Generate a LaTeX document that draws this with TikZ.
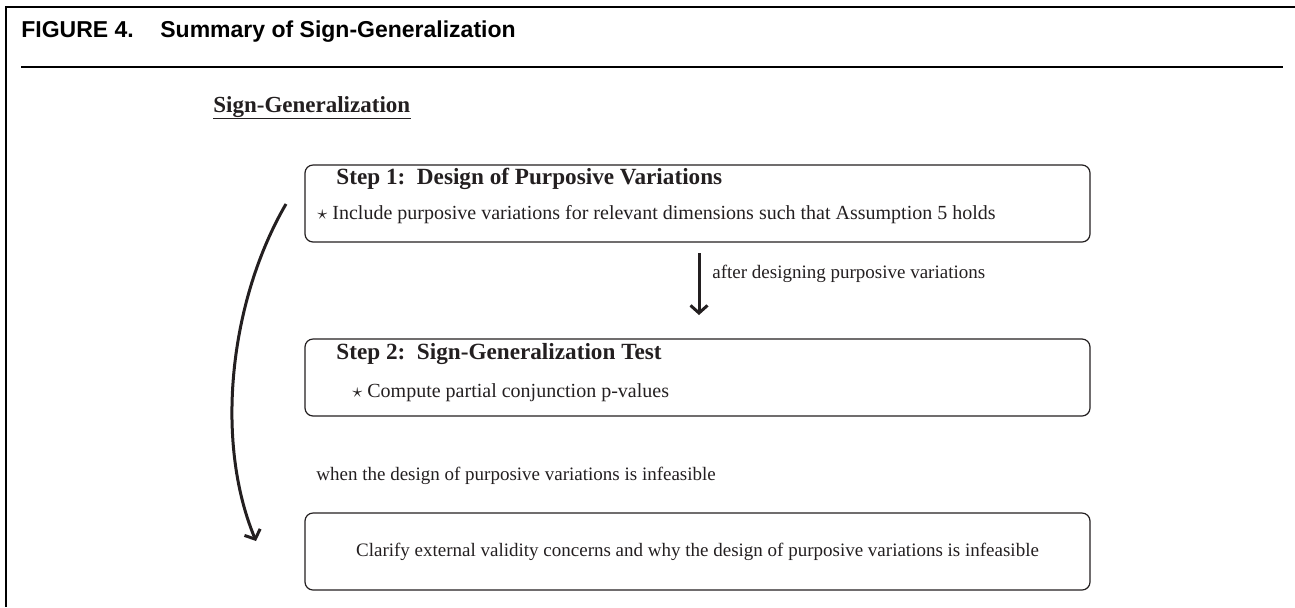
\documentclass[tikz,border=0pt]{standalone}
\usepackage{fontspec}
\setmainfont{Liberation Serif}
\newfontfamily\titlefont{Liberation Sans}
\usetikzlibrary{arrows.meta}
\definecolor{ink}{HTML}{231F20}
\tikzset{
  frameline/.style={line width=1.2pt},
  titletxt/.style={anchor=base west, inner sep=0pt, font=\titlefont\bfseries\fontsize{11.5}{13}\selectfont},
  stepbox/.style={draw=ink, rounded corners=4pt, line width=0.6pt, minimum width=392.5pt, inner sep=0pt},
  txt/.style={inner sep=0pt, text=ink, font=\fontsize{10}{12}\selectfont},
  lbl/.style={inner sep=0pt, text=ink, font=\fontsize{9.5}{11}\selectfont},
  headtxt/.style={inner sep=0pt, text=ink, font=\fontsize{11.6}{13}\selectfont\bfseries},
  flowarrow/.style={draw=ink, line width=1.5pt, -{Straight Barb[length=3.8pt,width=8.5pt,line width=1.5pt]}},
}
\begin{document}
\begin{tikzpicture}[x=0.5pt,y=-0.5pt]
\useasboundingbox (0,0) rectangle (1295,607);
% frame
\draw[frameline] (1295,7) -- (6,7) -- (6,607);
\draw[line width=1.1pt] (21,67) -- (1283,67);
% title
\node[titletxt] (fig) at (21,37) {FIGURE 4.};
\node[titletxt] (title) at (160,37) {Summary of Sign-Generalization};
% subtitle
\node[anchor=base west, inner sep=0pt, text=ink, font=\fontsize{11.5}{13}\selectfont\bfseries] (sg) at (213,112) {Sign-Generalization};
\draw[ink, line width=0.5pt] ([yshift=-3pt]sg.base west) -- ([yshift=-3pt]sg.base east);
% boxes
\node[stepbox, minimum height=38.5pt] (s1) at (697.5,203.5) {};
\node[stepbox, minimum height=38.5pt] (s2) at (697.5,377.5) {};
\node[stepbox, minimum height=38.5pt, text=ink, font=\fontsize{9.5}{11}\selectfont] (s3) at (697.5,551.5) {Clarify external validity concerns and why the design of purposive variations is infeasible};
% step 1 text
\node[headtxt, anchor=base west] (h1) at (336,184) {Step 1:\ \ Design of Purposive Variations};
\node[txt, anchor=base west] (i1) at (317,219) {$\star$ Include purposive variations for relevant dimensions such that Assumption 5 holds};
% step 2 text
\node[headtxt, anchor=base west] (h2) at (336,359) {Step 2:\ \ Sign-Generalization Test};
\node[txt, anchor=base west] (i2) at (352,397) {$\star$ Compute partial conjunction p-values};
% arrow 1
\coordinate (a1s) at (699,253);
\coordinate (a1e) at (699,315);
\draw[flowarrow] (a1s) -- (a1e);
\node[lbl, anchor=base west] (l1) at (712,278) {after designing purposive variations};
% curved arrow
\coordinate (cs) at (286,204);
\coordinate (ce) at (256,541);
\draw[flowarrow] (cs) .. controls (230,300) and (214,440) .. (ce);
\node[lbl, anchor=base west] (l2) at (316,480) {when the design of purposive variations is infeasible};
\end{tikzpicture}
\end{document}
